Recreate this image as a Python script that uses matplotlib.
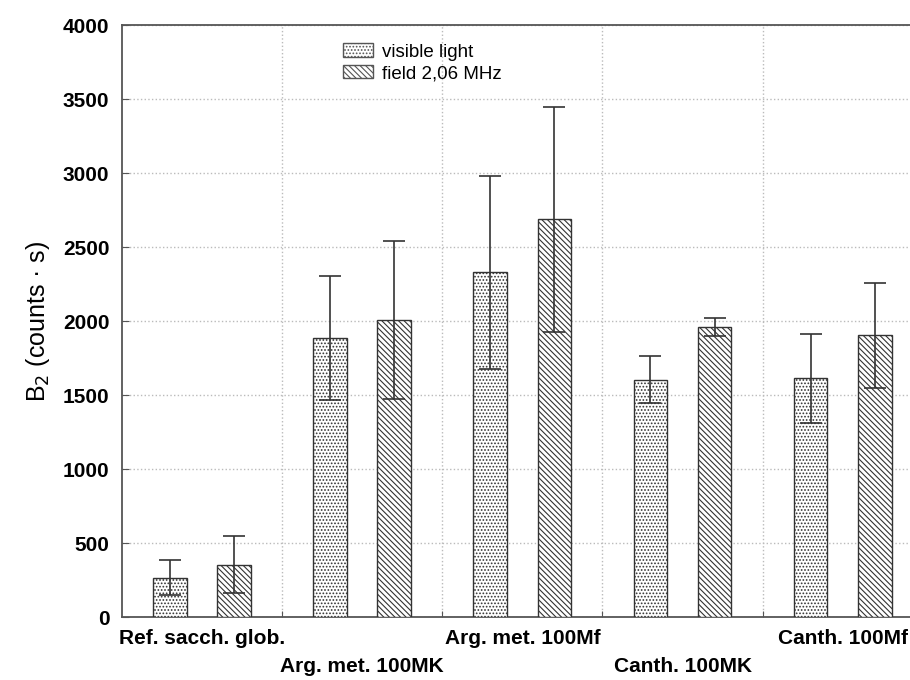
import matplotlib
matplotlib.use("Agg")
import matplotlib.pyplot as plt
import numpy as np
from matplotlib.patches import Patch

categories = ["Ref. sacch. glob.", "Arg. met. 100MK", "Arg. met. 100Mf", "Canth. 100MK", "Canth. 100Mf"]
visible = [265, 1885, 2330, 1605, 1615]
visible_err = [118, 420, 655, 160, 300]
field = [355, 2010, 2690, 1960, 1905]
field_err = [193, 535, 760, 60, 355]
series_names = ["visible light", "field 2,06 MHz"]

plt.rcParams['font.family'] = ['Liberation Sans', 'DejaVu Sans']
plt.rcParams['hatch.color'] = '#707070'
plt.rcParams['hatch.linewidth'] = 0.8

fig = plt.figure(figsize=(9.1, 6.8), dpi=100)
ax = fig.add_axes([0.134, 0.0926, 0.880, 0.870])

x = np.arange(len(categories))
w = 0.21
off = 0.2
ekw = dict(ecolor='#333333', elinewidth=1.2, capthick=1.2)
ax.bar(x - off, visible, w, yerr=visible_err, capsize=8, color='white',
       edgecolor='#333333', linewidth=1.0, hatch='.....', error_kw=ekw, zorder=3)
ax.bar(x + off, field, w, yerr=field_err, capsize=8, color='white',
       edgecolor='#333333', linewidth=1.0, hatch='\\\\\\\\\\\\', error_kw=ekw, zorder=3)

ax.set_xlim(-0.5, len(categories) - 0.5)
ax.set_ylim(0, 4000)
ax.set_yticks(np.arange(0, 4001, 500))
for lab in ax.get_yticklabels():
    lab.set_fontweight('bold')
ax.tick_params(axis='y', direction='in', length=5, labelsize=15, color='#555555', pad=9)

ax.set_xticks(np.arange(len(categories) - 1) + 0.5)
ax.set_xticklabels([])
ax.tick_params(axis='x', direction='in', length=4, color='#555555')

ax.grid(True, which='major', linestyle=':', color='#bbbbbb', linewidth=1.0, zorder=0)
ax.set_axisbelow(True)
for s in ax.spines.values():
    s.set_color('#555555')
    s.set_linewidth(1.3)
ax.spines['right'].set_visible(False)

for i, c in enumerate(categories):
    yoff = -0.037 if i % 2 == 0 else -0.084
    ax.text(i, yoff, c, transform=ax.get_xaxis_transform(), ha='center', va='center',
            fontsize=15, fontweight='bold')

ax.set_ylabel("B$_2$ (counts · s)", fontsize=18, labelpad=8)

handles = [Patch(facecolor='white', edgecolor='#555555', hatch='.....'),
           Patch(facecolor='white', edgecolor='#555555', hatch='\\\\\\\\\\\\')]
leg = ax.legend(handles, series_names, loc='upper left', bbox_to_anchor=(0.2545, 0.998),
                frameon=False, fontsize=13.5, handlelength=1.6, handleheight=0.7,
                handletextpad=0.5, labelspacing=0.25)

fig.savefig("out.png", dpi=100)
